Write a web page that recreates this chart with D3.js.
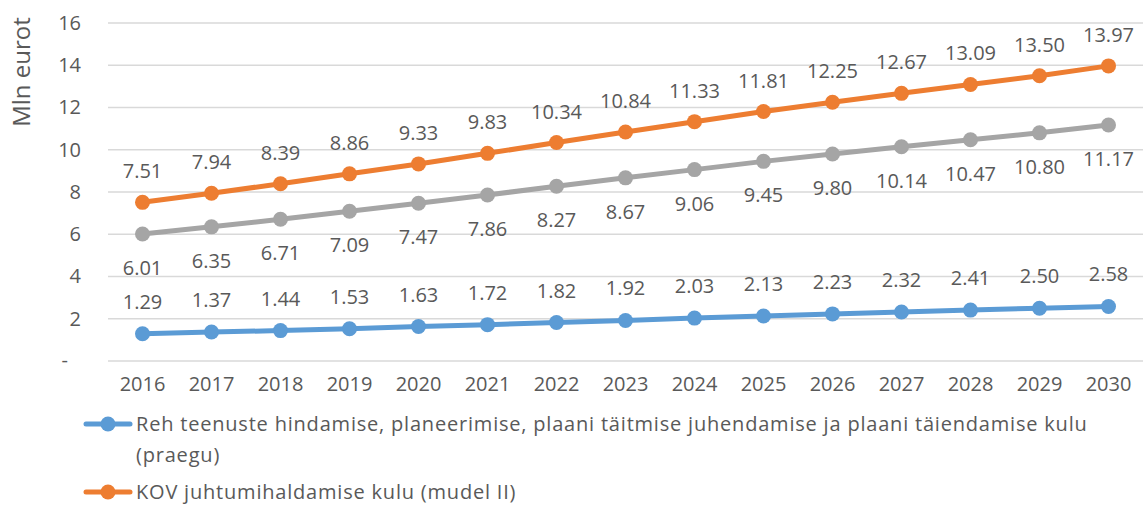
<!DOCTYPE html>
<html>
<head>
<meta charset="utf-8">
<script src="https://cdn.jsdelivr.net/npm/d3@7"></script>
<style>
  body { margin: 0; background: #fff; }
  svg text { font-family: "Open Sans", sans-serif; fill: #595959; }
</style>
</head>
<body>
<div class="chart-wrap"></div>
<script>
// data
var years = ["2016","2017","2018","2019","2020","2021","2022","2023","2024","2025","2026","2027","2028","2029","2030"];
var rehValues = [1.29,1.37,1.44,1.53,1.63,1.72,1.82,1.92,2.03,2.13,2.23,2.32,2.41,2.50,2.58];
var kovValues = [7.51,7.94,8.39,8.86,9.33,9.83,10.34,10.84,11.33,11.81,12.25,12.67,13.09,13.50,13.97];
var grayValues = [6.01,6.35,6.71,7.09,7.47,7.86,8.27,8.67,9.06,9.45,9.80,10.14,10.47,10.80,11.17];
var yTicks = [0,2,4,6,8,10,12,14,16];
var rehName = "Reh teenuste hindamise, planeerimise, plaani täitmise juhendamise ja plaani täiendamise kulu";
var rehName2 = "(praegu)";
var kovName = "KOV juhtumihaldamise kulu (mudel II)";

var width = 1146, height = 506;
var plot = {left: 108, right: 1143, top: 23, bottom: 361};
var fontSize = "20px";

var svg = d3.select(".chart-wrap").append("svg")
    .attr("width", width)
    .attr("height", height);

var xScale = d3.scaleBand().domain(years).range([plot.left, plot.right]);
var xMap = function(i) { return xScale(years[i]) + xScale.bandwidth() / 2; };
var yScale = d3.scaleLinear().domain([0, 16]).range([plot.bottom, plot.top]);

// gridlines
svg.append("g").selectAll("line")
    .data(yTicks)
  .enter().append("line")
    .attr("x1", plot.left).attr("x2", plot.right)
    .attr("y1", function(d) { return yScale(d); })
    .attr("y2", function(d) { return yScale(d); })
    .attr("stroke", "#d9d9d9")
    .attr("stroke-width", 1.5);

// y axis labels
var yAxis = d3.axisLeft(yScale).tickValues(yTicks)
    .tickSize(0).tickPadding(0)
    .tickFormat(function(d) { return d === 0 ? "" : d; });
var yg = svg.append("g")
    .attr("transform", "translate(81,0)")
    .call(yAxis);
yg.select(".domain").remove();
yg.selectAll("text").style("font-size", fontSize).attr("fill", "#595959");
// zero shown as a dash, as in accounting format
svg.append("text")
    .attr("x", 68).attr("y", yScale(0)).attr("dy", "0.32em")
    .attr("text-anchor", "end")
    .style("font-size", fontSize)
    .text("-");

// x axis labels
var xAxis = d3.axisBottom(xScale).tickSize(0).tickPadding(0);
var xg = svg.append("g")
    .attr("transform", "translate(0,377)")
    .call(xAxis);
xg.select(".domain").remove();
xg.selectAll("text").style("font-size", fontSize).attr("fill", "#595959");

// axis title
svg.append("text")
    .attr("transform", "translate(22,72) rotate(-90)")
    .attr("text-anchor", "middle")
    .attr("dy", "0.35em")
    .style("font-size", "24px")
    .text("Mln eurot");

var series = [
    {values: rehValues, color: "#5b9bd5", labelDy: -32},
    {values: kovValues, color: "#ed7d31", labelDy: -31},
    {values: grayValues, color: "#a5a5a5", labelDy: 34}
];

var line = d3.line()
    .x(function(d, i) { return xMap(i); })
    .y(function(d) { return yScale(d); });

series.forEach(function(s) {
    var g = svg.append("g");
    g.append("path")
        .datum(s.values)
        .attr("d", line)
        .attr("fill", "none")
        .attr("stroke", s.color)
        .attr("stroke-width", 5)
        .attr("stroke-linejoin", "round")
        .attr("stroke-linecap", "round");
    g.selectAll("circle")
        .data(s.values)
      .enter().append("circle")
        .attr("cx", function(d, i) { return xMap(i); })
        .attr("cy", function(d) { return yScale(d); })
        .attr("r", 7.5)
        .attr("fill", s.color);
    g.selectAll("text")
        .data(s.values)
      .enter().append("text")
        .attr("x", function(d, i) { return xMap(i); })
        .attr("y", function(d) { return yScale(d) + s.labelDy; })
        .attr("dy", "0.35em")
        .attr("text-anchor", "middle")
        .style("font-size", fontSize)
        .text(function(d) { return d.toFixed(2); });
});

// legend
function legendKey(y, color) {
    svg.append("line")
        .attr("x1", 86).attr("x2", 130)
        .attr("y1", y).attr("y2", y)
        .attr("stroke", color).attr("stroke-width", 5)
        .attr("stroke-linecap", "round");
    svg.append("circle")
        .attr("cx", 108).attr("cy", y).attr("r", 7.5)
        .attr("fill", color);
}
function legendText(y, txt) {
    svg.append("text").attr("x", 136).attr("y", y).attr("dy", "0.35em")
        .style("font-size", fontSize)
        .style("letter-spacing", "0.8px")
        .text(txt);
}
legendKey(424, "#5b9bd5");
legendText(424, rehName);
legendText(455, rehName2);
legendKey(492, "#ed7d31");
legendText(492, kovName);
</script>
</body>
</html>
